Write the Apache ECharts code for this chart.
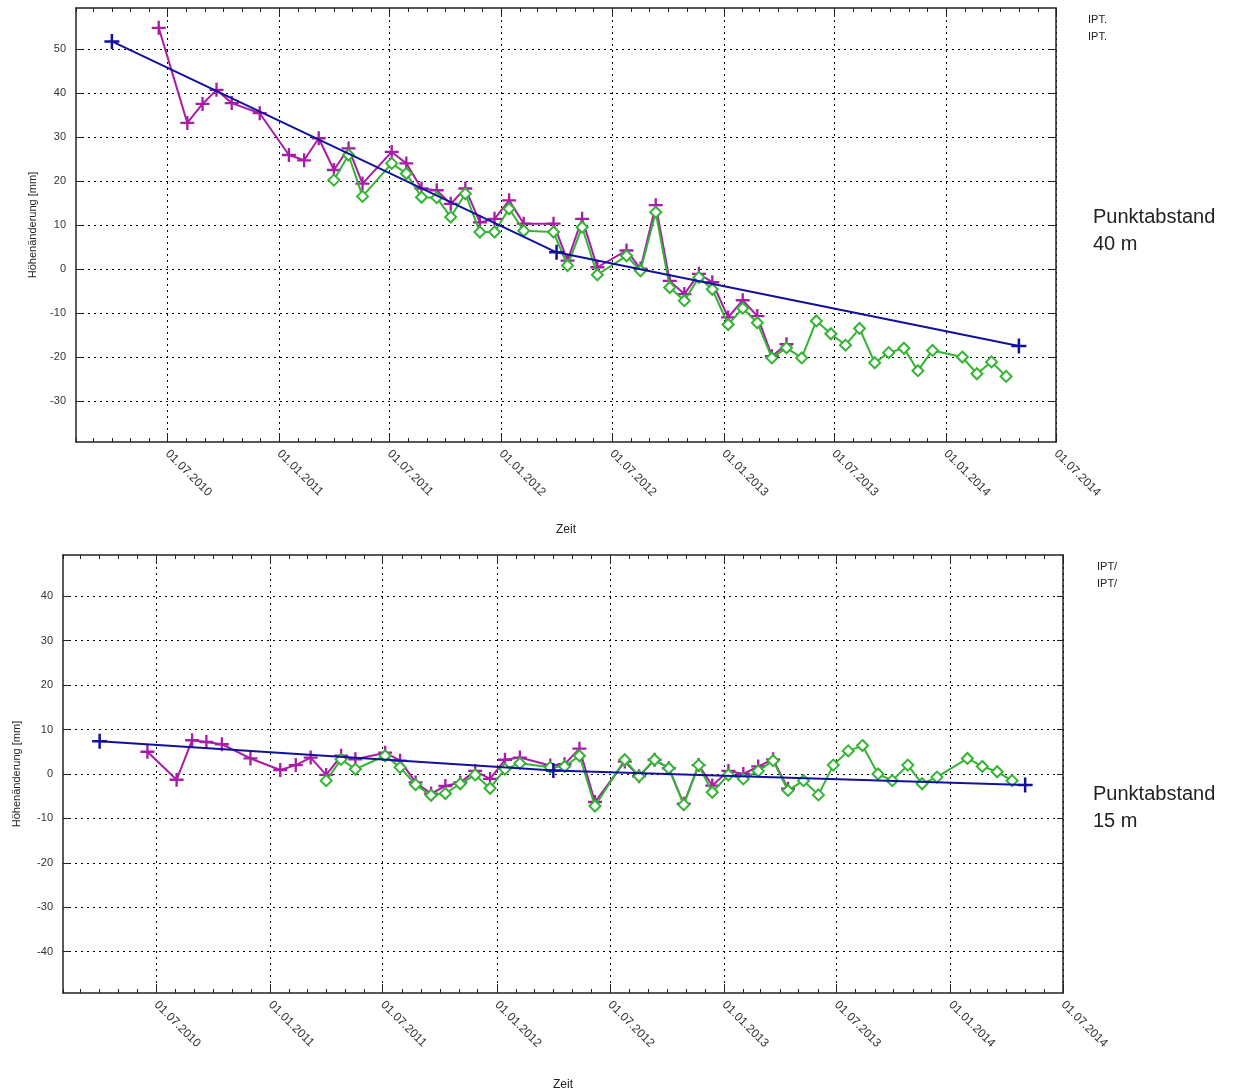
<!DOCTYPE html>
<html><head><meta charset="utf-8">
<script src="https://cdn.jsdelivr.net/npm/echarts@6/dist/echarts.min.js"></script>
<style>html,body{margin:0;padding:0;background:#fff}#c{width:1255px;height:1092px}</style>
</head><body><div id="c"></div><script>
// Shared acquisition dates (52)
const dates = ['2010-06-17','2010-08-03','2010-08-28','2010-09-20','2010-10-15','2010-11-30',
'2011-01-17','2011-02-11','2011-03-07','2011-04-01','2011-04-25','2011-05-18','2011-07-05','2011-07-29',
'2011-08-23','2011-09-17','2011-10-10','2011-11-03','2011-11-27','2011-12-21',
'2012-01-14','2012-02-07','2012-03-27','2012-04-19','2012-05-13','2012-06-07','2012-07-25','2012-08-17',
'2012-09-11','2012-10-04','2012-10-28','2012-11-21','2012-12-13',
'2013-01-08','2013-02-01','2013-02-25','2013-03-21','2013-04-14','2013-05-09','2013-06-02','2013-06-26',
'2013-07-20','2013-08-12','2013-09-06','2013-09-29','2013-10-24','2013-11-16','2013-12-10',
'2014-01-28','2014-02-21','2014-03-17','2014-04-10'];
const pinkDates = dates.slice(0, 38);
const greenDates = dates.slice(9);
const blueDates = ['2010-04-01', '2012-04-01', '2014-05-01'];

// Top chart (Punktabstand 40 m)
const topPink = [54.8,33.2,37.5,40.7,37.7,35.4,25.9,24.7,29.7,22.5,27.4,19.4,26.6,24.0,18.3,17.9,14.8,18.3,
10.6,11.4,15.6,10.3,10.3,1.9,11.4,0.4,4.2,0.1,14.5,-2.7,-5.7,-1.1,-3.0,-11.0,-7.1,-10.7,-19.8,-17.1];
const topGreen = [20.2,25.9,16.5,24.0,21.7,16.3,16.2,11.8,17.1,8.4,8.4,13.7,8.7,8.4,0.8,9.5,-1.3,3.0,-0.4,
12.9,-4.2,-7.2,-1.9,-4.6,-12.6,-8.9,-12.2,-20.2,-17.9,-20.2,-11.8,-14.7,-17.3,-13.5,-21.3,-19.0,-18.0,
-23.1,-18.5,-20.0,-23.8,-21.1,-24.4];
const topBlue = [51.7, 3.8, -17.5];

// Bottom chart (Punktabstand 15 m)
const botPink = [5.0,-1.3,7.6,7.2,6.7,3.5,0.9,2.0,3.7,-0.2,4.1,3.3,4.8,3.0,-1.9,-4.4,-2.7,-1.9,0.7,-1.1,
3.2,3.7,1.9,2.2,5.7,-6.3,2.8,-0.5,3.2,1.3,-6.7,2.0,-2.6,0.7,0.0,1.7,3.3,-3.3];
const botGreen = [-1.5,3.3,1.1,4.1,1.5,-2.4,-4.8,-4.4,-2.2,-0.2,-3.2,1.1,2.4,1.5,1.7,4.1,-7.2,3.2,-0.5,
3.2,1.3,-6.9,2.0,-4.1,-0.2,-1.1,0.7,3.0,-3.7,-1.5,-4.7,2.0,5.2,6.4,0.0,-1.5,2.0,-2.2,-0.7,3.5,1.7,0.5,-1.5];
const botBlue = [7.4, 0.8, -2.5];

const xMajorTicks = ['2010-07-01','2011-01-01','2011-07-01','2012-01-01','2012-07-01','2013-01-01',
'2013-07-01','2014-01-01','2014-07-01'];
const yTicksTop = [-30,-20,-10,0,10,20,30,40,50];
const yTicksBot = [-40,-30,-20,-10,0,10,20,30,40];

function ts(s){const p=s.split('-').map(Number);return new Date(p[0],p[1]-1,p[2]).getTime();}
const xMin = ts('2010-02-01'), xMax = ts('2014-07-01');
const majorTs = xMajorTicks.map(ts);
const minorTs = [];
for (let y=2010,m=1; y<2014 || (y===2014 && m<=6); ) { minorTs.push(new Date(y,m,1).getTime()); m++; if(m>11){m=0;y++;} }

function fmt(v){const d=new Date(v);const p=n=>String(n).padStart(2,'0');return p(d.getDate())+'.'+p(d.getMonth()+1)+'.'+d.getFullYear();}
const FONT = "'Liberation Sans', Arial, sans-serif";
const dotted = {show:true, lineStyle:{color:'#000', type:[2,4], width:1}};
const axLine = {show:true, onZero:false, lineStyle:{color:'#222', width:1.5}};
const noLine = {show:false, onZero:false};

function xAxes(grid){
  return [
    {gridIndex:grid, type:'value', position:'bottom', min:xMin, max:xMax, axisLine:axLine,
     axisTick:{show:true, inside:true, length:9, customValues:majorTs, lineStyle:{color:'#222'}},
     axisLabel:{show:true, customValues:majorTs, rotate:-45, margin:10, formatter:fmt, color:'#333', fontSize:12, fontFamily:FONT, showMinLabel:true, showMaxLabel:true, hideOverlap:false},
     splitLine:dotted,
     name:'Zeit', nameLocation:'middle', nameGap: grid===0?82:86, nameTextStyle:{color:'#222', fontSize:12, fontFamily:FONT}},
    {gridIndex:grid, type:'value', position:'bottom', min:xMin, max:xMax, axisLine:noLine,
     axisTick:{show:true, inside:true, length:4, customValues:minorTs, lineStyle:{color:'#222'}},
     axisLabel:{show:false}, splitLine:{show:false}},
    {gridIndex:grid, type:'value', position:'top', min:xMin, max:xMax, axisLine:axLine,
     axisTick:{show:true, inside:true, length:9, customValues:majorTs, lineStyle:{color:'#222'}},
     axisLabel:{show:false}, splitLine:{show:false}},
    {gridIndex:grid, type:'value', position:'top', min:xMin, max:xMax, axisLine:noLine,
     axisTick:{show:true, inside:true, length:4, customValues:minorTs, lineStyle:{color:'#222'}},
     axisLabel:{show:false}, splitLine:{show:false}}
  ];
}
function yAxes(grid, mn, mx, ticks, gap){
  return [
    {gridIndex:grid, type:'value', position:'left', min:mn, max:mx, axisLine:axLine,
     axisTick:{show:true, inside:true, length:6, customValues:ticks, lineStyle:{color:'#222'}},
     axisLabel:{customValues:ticks, margin:10, color:'#333', fontSize:11, fontFamily:FONT},
     splitLine:dotted,
     name:'Höhenänderung [mm]', nameLocation:'middle', nameGap:gap, nameRotate:90,
     nameTextStyle:{color:'#222', fontSize:11, fontFamily:FONT}},
    {gridIndex:grid, type:'value', position:'right', min:mn, max:mx, axisLine:axLine,
     axisTick:{show:true, inside:true, length:6, customValues:ticks, lineStyle:{color:'#222'}},
     axisLabel:{show:false}, splitLine:{show:false}}
  ];
}
const plus = 'path://M5,0L7,0L7,5L12,5L12,7L7,7L7,12L5,12L5,7L0,7L0,5L5,5Z';
const PINK='#a81ca8', GREEN='#33b533', BLUE='#11119c';
function pair(ds, vs){return ds.map((d,i)=>[ts(d), vs[i]]);}
function seriesFor(xi, yi, pink, green, blue){
  return [
    {type:'line', xAxisIndex:xi, yAxisIndex:yi, data:pair(pinkDates,pink), symbol:plus, symbolSize:14,
     lineStyle:{color:PINK,width:2}, itemStyle:{color:PINK}, z:3},
    {type:'line', xAxisIndex:xi, yAxisIndex:yi, data:pair(greenDates,green), symbol:'diamond', symbolSize:11,
     lineStyle:{color:GREEN,width:2}, itemStyle:{color:'#fff', borderColor:GREEN, borderWidth:2}, z:4},
    {type:'line', xAxisIndex:xi, yAxisIndex:yi, data:pair(blueDates,blue), symbol:plus, symbolSize:15,
     lineStyle:{color:BLUE,width:2}, itemStyle:{color:BLUE}, z:5}
  ];
}
const txt = (l,t,s,size)=>({type:'text', left:l, top:t, style:{text:s, fill:'#222', font:size+'px '+FONT}});
const chart = echarts.init(document.getElementById('c'), null, {renderer:'canvas'});
chart.setOption({
  animation:false,
  backgroundColor:'#fff',
  grid:[{left:76, top:8, width:980, height:434}, {left:63, top:555, width:1000, height:440}],
  xAxis:[...xAxes(0), ...xAxes(1)],
  yAxis:[...yAxes(0,-39.3,59.3,yTicksTop,38), ...yAxes(1,-49.3,49.3,yTicksBot,41)],
  series:[...seriesFor(0,0,topPink,topGreen,topBlue), ...seriesFor(4,2,botPink,botGreen,botBlue)],
  graphic:[
    txt(1088,14,'IPT.',11), txt(1088,31,'IPT.',11),
    txt(1097,561,'IPT/',11), txt(1097,578,'IPT/',11),
    txt(1093,207,'Punktabstand',20), txt(1093,234,'40 m',20),
    txt(1093,784,'Punktabstand',20), txt(1093,811,'15 m',20)
  ]
});
</script></body></html>
